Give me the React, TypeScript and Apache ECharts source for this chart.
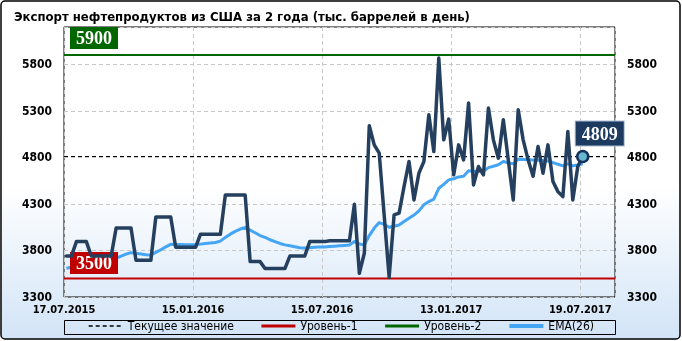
import React, { useEffect, useRef } from 'react';
import * as echarts from 'echarts';

const TITLE = 'Экспорт нефтепродуктов из США за 2 года (тыс. баррелей в день)';
const tickLabels = ['17.07.2015', '15.01.2016', '15.07.2016', '13.01.2017', '19.07.2017'];
const legendNames = ['Текущее значение', 'Уровень-1', 'Уровень-2', 'EMA(26)'];

// weekly exports, thousand barrels per day
const exportsWeekly = [
  3740, 3740, 3895, 3895, 3895, 3740, 3740, 3740, 3740, 3740,
  4040, 4040, 4040, 4040, 3695, 3695, 3695, 3695, 4160, 4160,
  4160, 4160, 3834, 3834, 3834, 3834, 3834, 3975, 3975, 3975,
  3975, 3975, 4395, 4395, 4395, 4395, 4395, 3680, 3680, 3680,
  3605, 3605, 3605, 3605, 3605, 3740, 3740, 3740, 3740, 3895,
  3895, 3895, 3895, 3905, 3905, 3905, 3905, 3905, 4297, 3555,
  3770, 5139, 4934, 4845, 4180, 3510, 4182, 4200, 4486, 4755,
  4343, 4630, 4755, 5257, 4862, 5866, 4988, 5211, 4612, 4934,
  4773, 5383, 4504, 4701, 4612, 5329, 4988, 4791, 5203, 4773,
  4343, 5311, 4988, 4773, 4597, 4916, 4630, 4934, 4540, 4432,
  4378, 5077, 4343, 4701, 4809,
];

const ema26 = [
  3608, 3620, 3638, 3655, 3670, 3678, 3686, 3693, 3700, 3706,
  3716, 3740, 3760, 3776, 3770, 3762, 3755, 3752, 3780, 3808,
  3838, 3866, 3864, 3863, 3862, 3862, 3862, 3868, 3874, 3880,
  3886, 3900, 3940, 3975, 4005, 4030, 4048, 4018, 3990, 3960,
  3940, 3915, 3895, 3875, 3860, 3850, 3840, 3830, 3826, 3830,
  3834, 3836, 3838, 3842, 3846, 3850, 3854, 3858, 3895, 3870,
  3860, 3960, 4040, 4099, 4080, 4049, 4060, 4074, 4110, 4146,
  4180, 4225, 4290, 4325, 4351, 4468, 4510, 4558, 4570, 4590,
  4597, 4655, 4652, 4648, 4650, 4690, 4705, 4720, 4755, 4742,
  4730, 4780, 4778, 4775, 4772, 4770, 4766, 4760, 4744, 4726,
  4709, 4730, 4709, 4718, 4730,
];

const level1 = 3500;
const level2 = 5900;
const current = exportsWeekly[exportsWeekly.length - 1];

const Y_MIN = 3300;
const Y_MAX = 6200;
const Y_STEP = 500;
const WEEKS_PER_TICK = 26;
const X_END = 111;

const FONT = 'DejaVu Sans Condensed';
const SERIF = 'Liberation Serif';

export default function App() {
  const ref = useRef<HTMLDivElement>(null);

  useEffect(() => {
    if (!ref.current) return;
    const chart = echarts.init(ref.current, undefined, { renderer: 'svg' });

    const pts = (arr: number[]) => arr.map((v, i) => [i + 0.5, v]);
    const flat = (v: number) => [[0, v], [X_END, v]];

    const yLabel = (v: number) => ((v - Y_MIN) % Y_STEP === 0 && v < Y_MAX ? String(v) : '');

    const boxLabel = (text: string, bg: string, offset: number[], extra: any = {}) => ({
      show: true,
      position: 'inside',
      offset,
      formatter: text,
      backgroundColor: bg,
      color: '#fff',
      fontFamily: SERIF,
      fontWeight: 'bold',
      fontSize: 18,
      lineHeight: 19,
      padding: [2, 6, 1, 6],
      ...extra,
    });

    const legendWidths = [1.5, 3, 3, 4];

    const option: any = {
      animation: false,
      textStyle: { fontFamily: FONT },
      graphic: [
        {
          type: 'rect',
          z: -100,
          silent: true,
          shape: { x: 1, y: 1, width: 679, height: 338, r: 4 },
          style: {
            fill: new echarts.graphic.LinearGradient(0, 0, 0, 1, [
              { offset: 0, color: '#ffffff' },
              { offset: 0.55, color: '#ffffff' },
              { offset: 1, color: '#d2e4f7' },
            ]),
            stroke: '#000',
            lineWidth: 1.5,
          },
        },
        {
          type: 'rect',
          silent: true,
          shape: { x: 64.5, y: 320.5, width: 551, height: 14 },
          style: { fill: 'none', stroke: '#000', lineWidth: 1 },
        },
      ],
      title: {
        text: TITLE,
        left: 9,
        top: 5,
        textStyle: { fontFamily: FONT, fontSize: 13, fontWeight: 'bold', color: '#000' },
      },
      legend: {
        data: legendNames.map((name, i) => ({ name, lineStyle: { width: legendWidths[i] } })),
        left: 'center',
        top: 320,
        itemWidth: 34,
        itemHeight: 14,
        itemGap: 26,
        padding: 0,
        itemStyle: { color: 'rgba(0,0,0,0)', borderColor: 'rgba(0,0,0,0)', borderWidth: 0 },
        textStyle: { fontFamily: FONT, fontSize: 12, color: '#000' },
      },
      grid: {
        left: 64,
        right: 67,
        top: 27,
        bottom: 44,
        show: true,
        borderColor: '#000',
        borderWidth: 1,
        backgroundColor: 'transparent',
        outerBoundsMode: 'none',
      },
      xAxis: {
        type: 'value',
        min: 0,
        max: X_END,
        interval: WEEKS_PER_TICK,
        axisLine: { show: false },
        axisTick: { show: false },
        axisLabel: {
          margin: 7,
          fontFamily: FONT,
          fontSize: 11,
          fontWeight: 'bold',
          color: '#000',
          formatter: (v: number) => {
            const i = v / WEEKS_PER_TICK;
            return Number.isInteger(i) && tickLabels[i] ? tickLabels[i] : '';
          },
        },
        splitLine: { show: true, lineStyle: { color: '#c8c8c8', type: [4, 3] } },
      },
      yAxis: [
        {
          type: 'value',
          min: Y_MIN,
          max: Y_MAX,
          interval: Y_STEP,
          axisLine: { show: false },
          axisTick: { show: false },
          axisLabel: { margin: 12, fontFamily: FONT, fontSize: 12, fontWeight: 'bold', color: '#000', formatter: yLabel },
          splitLine: { show: true, lineStyle: { color: '#c8c8c8', type: [4, 3] } },
        },
        {
          type: 'value',
          position: 'right',
          min: Y_MIN,
          max: Y_MAX,
          interval: Y_STEP,
          axisLine: { show: false },
          axisTick: { show: false },
          axisLabel: { margin: 12, fontFamily: FONT, fontSize: 12, fontWeight: 'bold', color: '#000', formatter: yLabel },
          splitLine: { show: false },
        },
      ],
      series: [
        {
          name: 'Текущее значение',
          type: 'line',
          data: flat(current),
          symbol: 'none',
          z: 3,
          itemStyle: { color: '#000' },
          lineStyle: { color: '#000', width: 1, type: [4, 3] },
        },
        {
          name: 'Уровень-1',
          type: 'line',
          data: flat(level1),
          symbol: 'none',
          itemStyle: { color: '#c00000' },
          lineStyle: { color: '#c00000', width: 2 },
          markPoint: {
            silent: true,
            symbol: 'circle',
            symbolSize: 1,
            itemStyle: { color: 'rgba(0,0,0,0)' },
            data: [{ coord: [0, level1], value: level1 }],
            label: boxLabel(String(level1), '#c00000', [30, -15.5]),
          },
        },
        {
          name: 'Уровень-2',
          type: 'line',
          data: flat(level2),
          symbol: 'none',
          itemStyle: { color: '#006600' },
          lineStyle: { color: '#006600', width: 2 },
          markPoint: {
            silent: true,
            symbol: 'circle',
            symbolSize: 1,
            itemStyle: { color: 'rgba(0,0,0,0)' },
            data: [{ coord: [0, level2], value: level2 }],
            label: boxLabel(String(level2), '#006600', [30, -17]),
          },
        },
        {
          name: 'EMA(26)',
          type: 'line',
          data: pts(ema26),
          symbol: 'none',
          z: 4,
          itemStyle: { color: '#45a5f5' },
          lineStyle: { color: '#45a5f5', width: 3, join: 'round' },
        },
        {
          name: 'Экспорт',
          type: 'line',
          data: pts(exportsWeekly),
          symbol: 'none',
          z: 5,
          itemStyle: { color: '#25405f' },
          lineStyle: { color: '#25405f', width: 3.5, join: 'round', cap: 'round' },
          markPoint: {
            silent: true,
            symbol: 'circle',
            symbolSize: 11,
            z: 10,
            itemStyle: { color: '#65b8d0', borderColor: '#15305a', borderWidth: 2.5 },
            data: [{ coord: [exportsWeekly.length - 0.5, current], value: current }],
            label: boxLabel(String(current), '#1d3a61', [17, -23], {
              borderColor: '#a9bcd4',
              borderWidth: 1,
              padding: [3, 6, 2, 6],
            }),
          },
        },
      ],
    };

    chart.setOption(option);
    return () => chart.dispose();
  }, []);

  return <div ref={ref} style={{ position: 'fixed', left: 0, top: 0, width: 682, height: 341 }} />;
}
